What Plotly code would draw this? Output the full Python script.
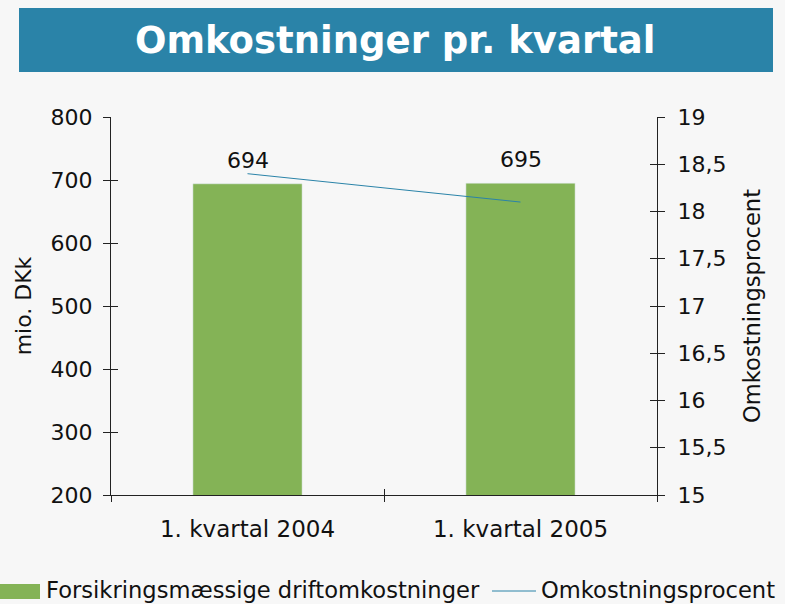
import plotly.graph_objects as go

categories = ["1. kvartal 2004", "1. kvartal 2005"]
cost_values = [694, 695]
pct_values = [18.4, 18.1]
bar_name = "Forsikringsmæssige driftomkostninger"
line_name = "Omkostningsprocent"
title_text = "Omkostninger pr. kvartal"
left_title = "mio. DKk"
right_title = "Omkostningsprocent"
left_ticks = [200, 300, 400, 500, 600, 700, 800]
right_ticks = [15, 15.5, 16, 16.5, 17, 17.5, 18, 18.5, 19]
right_ticklabels = ["15", "15,5", "16", "16,5", "17", "17,5", "18", "18,5", "19"]

FONT = "DejaVu Sans, Verdana, sans-serif"
BG = "#f7f7f7"
GREEN = "#84b356"
BLUE = "#2a83a8"
AX = "#222222"
TXT = "#111111"
FS = 22

fig = go.Figure()
fig.add_trace(go.Bar(x=categories, y=cost_values, name=bar_name, marker_color=GREEN,
                     width=0.4, xaxis="x", yaxis="y", showlegend=False))
fig.add_trace(go.Scatter(x=categories, y=pct_values, name=line_name, mode="lines",
                         line=dict(color=BLUE, width=1), xaxis="x", yaxis="y2", showlegend=False))
# ghost traces so overlay axes (inside tick halves) get drawn
fig.add_trace(go.Scatter(x=categories, y=cost_values, mode="markers", marker=dict(opacity=0),
                         xaxis="x2", yaxis="y3", showlegend=False, hoverinfo="skip"))
fig.add_trace(go.Scatter(x=categories, y=pct_values, mode="markers", marker=dict(opacity=0),
                         xaxis="x2", yaxis="y4", showlegend=False, hoverinfo="skip"))

for c, v in zip(categories, cost_values):
    fig.add_annotation(x=c, y=v, xref="x", yref="y", text=str(v), showarrow=False,
                       yanchor="bottom", yshift=9, font=dict(family=FONT, size=FS, color=TXT))

L, R, T, B = 111, 657, 117, 495
W = R - L
H = B - T
def px(x):
    return (x - L) / W
def py(y):
    return (B - y) / H

# title banner
fig.add_shape(type="rect", xref="paper", yref="paper", x0=px(19), x1=px(773), y0=py(72), y1=py(8),
              fillcolor=BLUE, line=dict(width=0), layer="below")
fig.add_annotation(xref="paper", yref="paper", x=px(395), y=py(41), text="<b>%s</b>" % title_text,
                   showarrow=False, xanchor="center", yanchor="middle",
                   font=dict(family=FONT, size=37, color="white"))

# custom legend
fig.add_shape(type="rect", xref="paper", yref="paper", x0=px(0), x1=px(40), y0=py(599), y1=py(584),
              fillcolor=GREEN, line=dict(width=0))
fig.add_annotation(xref="paper", yref="paper", x=px(44), y=py(590), text=bar_name, showarrow=False,
                   xanchor="left", yanchor="middle", font=dict(family=FONT, size=22.6, color=TXT))
fig.add_shape(type="line", xref="paper", yref="paper", x0=px(492), x1=px(536), y0=py(591), y1=py(591),
              line=dict(color=BLUE, width=1))
fig.add_annotation(xref="paper", yref="paper", x=px(539), y=py(590), text=line_name, showarrow=False,
                   xanchor="left", yanchor="middle", font=dict(family=FONT, size=22.6, color=TXT))

tickfont = dict(family=FONT, size=FS, color=TXT)
fig.update_layout(
    width=785, height=604,
    margin=dict(l=L, r=785 - R, t=T, b=604 - B),
    paper_bgcolor=BG, plot_bgcolor=BG,
    showlegend=False,
    xaxis=dict(type="category", categoryorder="array", categoryarray=categories,
               showline=True, linecolor=AX, linewidth=1, ticks="outside", ticklen=6,
               tickcolor=AX, tickson="boundaries", tickfont=dict(family=FONT, size=23, color=TXT),
               ticklabelstandoff=13, showgrid=False, zeroline=False),
    xaxis2=dict(type="category", categoryorder="array", categoryarray=categories,
                overlaying="x", side="bottom", anchor="y", showline=False, ticks="inside", ticklen=6,
                tickcolor=AX, tickson="boundaries", showticklabels=False, showgrid=False),
    yaxis=dict(range=[200, 800], tickvals=left_ticks, showline=True, linecolor=AX, linewidth=1,
               ticks="outside", ticklen=7, tickcolor=AX, tickfont=tickfont, showgrid=False,
               zeroline=False, ticklabelstandoff=6,
               title=dict(text=left_title, font=dict(family=FONT, size=FS, color=TXT), standoff=12)),
    yaxis2=dict(range=[15, 19], tickvals=right_ticks, ticktext=right_ticklabels, overlaying="y",
                side="right", anchor="x", showline=True, linecolor=AX, linewidth=1, ticks="outside",
                ticklen=7, tickcolor=AX, tickfont=tickfont, showgrid=False, zeroline=False,
                ticklabelstandoff=8,
                title=dict(text=right_title, font=dict(family=FONT, size=22.6, color=TXT), standoff=18)),
    yaxis3=dict(range=[200, 800], tickvals=left_ticks, overlaying="y", side="left", anchor="x2",
                showline=False, ticks="inside", ticklen=7, tickcolor=AX, showticklabels=False,
                showgrid=False, zeroline=False),
    yaxis4=dict(range=[15, 19], tickvals=right_ticks, overlaying="y", side="right", anchor="x2",
                showline=False, ticks="inside", ticklen=7, tickcolor=AX, showticklabels=False,
                showgrid=False, zeroline=False),
)

fig.write_html("out.html", config={"displayModeBar": False},
               post_script="document.body.style.margin='0px';")
